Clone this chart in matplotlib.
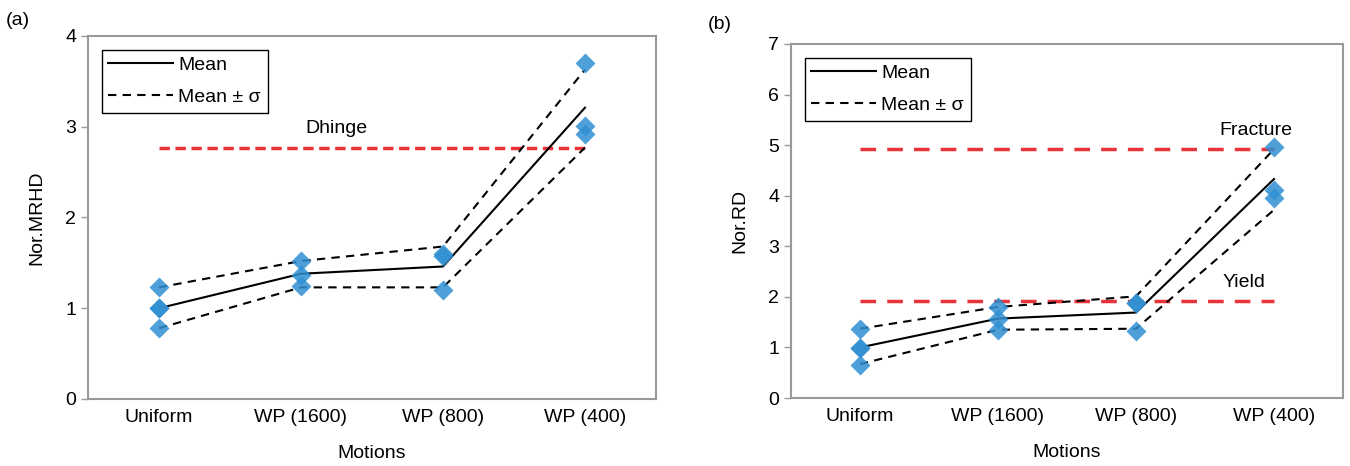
import matplotlib
matplotlib.use('Agg')
from matplotlib import pyplot as plt

plt.rcParams['font.family'] = ['Liberation Sans', 'DejaVu Sans']

motions = ['Uniform', 'WP (1600)', 'WP (800)', 'WP (400)']

# (a) normalised MRHD: individual records per motion
mrhd_pts = [[1.23, 1.00, 1.00, 0.78],
            [1.52, 1.37, 1.24],
            [1.58, 1.60, 1.20],
            [3.70, 3.01, 2.92]]
mrhd_mean = [1.00, 1.38, 1.46, 3.21]
mrhd_up = [1.23, 1.52, 1.68, 3.63]
mrhd_lo = [0.78, 1.23, 1.23, 2.77]
dhinge = 2.77

# (b) normalised RD
rd_pts = [[1.37, 0.98, 0.98, 0.65],
          [1.80, 1.57, 1.35],
          [1.88, 1.88, 1.33],
          [4.96, 4.12, 3.96]]
rd_mean = [1.00, 1.57, 1.69, 4.33]
rd_up = [1.37, 1.80, 2.01, 4.92]
rd_lo = [0.67, 1.35, 1.37, 3.72]
fracture = 4.93
yld = 1.92

fig = plt.figure(figsize=(13.5, 4.66), dpi=100)
ax1 = fig.add_axes([0.0652, 0.1438, 0.4207, 0.7790])
ax2 = fig.add_axes([0.5859, 0.1459, 0.4089, 0.7597])

red = '#e8333b'
blue = '#3090d2'
fs = 14


def draw(ax, pts, mean, up, lo, ymax, ylabel):
    x = range(len(motions))
    ax.plot(x, mean, color='black', lw=1.5, label='Mean', zorder=3)
    ax.plot(x, up, color='black', lw=1.5, dashes=(4, 3),
            label='Mean \u00b1 \u03c3', zorder=3)
    ax.plot(x, lo, color='black', lw=1.5, dashes=(4, 3), zorder=3)
    for i, vals in enumerate(pts):
        ax.plot([i] * len(vals), vals, ls='none', marker='D', ms=10,
                color=blue, alpha=0.85, mec='none', zorder=4)
    ax.set_xlim(-0.5, 3.5)
    ax.set_ylim(0, ymax)
    ax.set_xticks(list(x))
    ax.set_xticklabels(motions)
    ax.set_yticks(range(ymax + 1))
    ax.tick_params(axis='x', length=0, labelsize=fs, pad=7)
    ax.tick_params(axis='y', length=5, width=1, color='#999999',
                   labelsize=fs, direction='out')
    for s in ax.spines.values():
        s.set_color('#999999')
        s.set_linewidth(1.5)
    ax.set_xlabel('Motions', fontsize=fs, labelpad=14)
    ax.set_ylabel(ylabel, fontsize=fs, labelpad=14)
    leg = ax.legend(loc='upper left', fontsize=fs, fancybox=False,
                    framealpha=1, edgecolor='black', borderaxespad=0.7,
                    handlelength=3.3, handletextpad=0.3, borderpad=0.35,
                    labelspacing=0.75)
    leg.get_frame().set_linewidth(1.0)


draw(ax1, mrhd_pts, mrhd_mean, mrhd_up, mrhd_lo, 4, 'Nor.MRHD')
ax1.plot([0, 3], [dhinge, dhinge], color=red, lw=2.5, dashes=(3, 1.6), zorder=2)
ax1.text(1.25, dhinge + 0.12, 'Dhinge', fontsize=fs, ha='center', va='bottom')

draw(ax2, rd_pts, rd_mean, rd_up, rd_lo, 7, 'Nor.RD')
ax2.plot([0, 3], [fracture, fracture], color=red, lw=2.5, dashes=(4.5, 3.2), zorder=2)
ax2.plot([0, 3], [yld, yld], color=red, lw=2.5, dashes=(4.5, 3.2), zorder=2)
ax2.text(2.87, fracture + 0.2, 'Fracture', fontsize=fs, ha='center', va='bottom')
ax2.text(2.78, yld + 0.2, 'Yield', fontsize=fs, ha='center', va='bottom')

fig.text(0.004, 0.955, '(a)', fontsize=fs, ha='left', va='center')
fig.text(0.524, 0.947, '(b)', fontsize=fs, ha='left', va='center')

fig.savefig('out.png', dpi=100)
